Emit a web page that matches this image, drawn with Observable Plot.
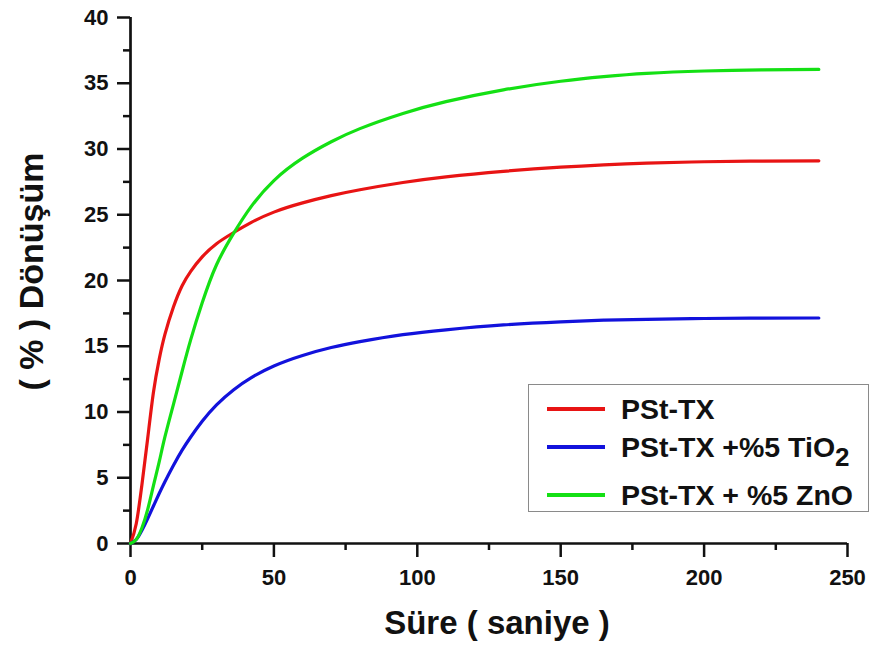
<!DOCTYPE html>
<html>
<head>
<meta charset="utf-8">
<script src="https://cdn.jsdelivr.net/npm/d3@7"></script>
<script src="https://cdn.jsdelivr.net/npm/@observablehq/plot@0.6"></script>
<style>
  html, body { margin: 0; padding: 0; background: #fff; }
  #wrap { position: relative; width: 873px; height: 655px; font-family: "Liberation Sans", Arial, sans-serif; }
  #legend { position: absolute; left: 528px; top: 384px; width: 341px; height: 128px; border: 1.5px solid #8a8a8a; box-sizing: border-box; padding-top: 5px; }
  .row { display: flex; align-items: center; height: 38px; }
  .row:nth-child(2) { margin-bottom: 10px; }
  .sw { width: 58px; height: 3.5px; margin-left: 18px; margin-right: 16px; }
  .lbl { font-weight: bold; font-size: 28.5px; color: #111; white-space: nowrap; }
  .lbl sub { font-size: 26px; vertical-align: -9px; line-height: 0; }
</style>
</head>
<body>
<div id="wrap"></div>
<script>
// time (s)
const times = [0, 2, 4, 6, 8, 10, 12, 15, 18, 21, 25, 30, 36, 42, 50, 60, 70, 80, 95, 110, 130, 150, 165, 180, 200, 220, 240];
// conversion (%) per series
const pstTX   = [0, 1.5, 4.5, 8.0, 11.5, 14.0, 15.9, 18.0, 19.6, 20.7, 21.8, 22.8, 23.65, 24.4, 25.2, 25.9, 26.45, 26.9, 27.45, 27.88, 28.3, 28.62, 28.8, 28.93, 29.03, 29.08, 29.1];
const pstTiO2 = [0, 0.3, 1.0, 1.9, 2.85, 3.8, 4.7, 5.95, 7.1, 8.1, 9.3, 10.55, 11.7, 12.6, 13.5, 14.3, 14.9, 15.35, 15.88, 16.25, 16.62, 16.86, 16.98, 17.05, 17.11, 17.14, 17.15];
const pstZnO  = [0, 0.3, 1.2, 2.6, 4.4, 6.2, 8.1, 10.6, 13.1, 15.5, 18.3, 21.2, 23.6, 25.6, 27.6, 29.3, 30.55, 31.55, 32.7, 33.6, 34.5, 35.15, 35.5, 35.75, 35.93, 36.02, 36.05];

const seriesKeys = ["PSt-TX", "PSt-TX +%5 TiO2", "PSt-TX + %5 ZnO"];
const seriesLabels = ["PSt-TX", "PSt-TX +%5 TiO<sub>2</sub>", "PSt-TX + %5 ZnO"];
const seriesColors = ["#e81414", "#1212dc", "#14e014"];
const seriesValues = [pstTX, pstTiO2, pstZnO];

const xMajor = [0, 50, 100, 150, 200, 250];
const xMinor = [25, 75, 125, 175, 225];
const yMajor = [0, 5, 10, 15, 20, 25, 30, 35, 40];
const yMinor = [2.5, 7.5, 12.5, 17.5, 22.5, 27.5, 32.5, 37.5];

const xTitle = "Süre ( saniye )";
const yTitle = "( % ) Dönüşüm";

const rows = seriesKeys.flatMap((s, i) => times.map((t, j) => ({series: s, t, v: seriesValues[i][j]})));

const font = {fontWeight: "bold"};

const chart = Plot.plot({
  width: 873,
  height: 655,
  marginLeft: 130,
  marginRight: 26,
  marginTop: 17,
  marginBottom: 112,
  style: {fontFamily: "'Liberation Sans', Arial, sans-serif", color: "#111", background: "#fff"},
  x: {domain: [0, 250]},
  y: {domain: [0, 40]},
  color: {domain: seriesKeys, range: seriesColors},
  marks: [
    Plot.axisX(xMajor, {tickSize: 14, tickPadding: 12, fontSize: 22, ...font, stroke: "#111", strokeWidth: 2.5, label: null}),
    Plot.axisX(xMinor, {tickSize: 7, fill: "none", stroke: "#111", strokeWidth: 2.5, label: null}),
    Plot.axisY(yMajor, {tickSize: 13, tickPadding: 9, fontSize: 22, ...font, stroke: "#111", strokeWidth: 2.5, label: null}),
    Plot.axisY(yMinor, {tickSize: 7, fill: "none", stroke: "#111", strokeWidth: 2.5, label: null}),
    Plot.ruleX([0], {strokeWidth: 2.7, stroke: "#111"}),
    Plot.ruleY([0], {strokeWidth: 2.7, stroke: "#111"}),
    Plot.line(rows, {x: "t", y: "v", z: "series", stroke: "series", strokeWidth: 3.2, curve: "natural"}),
    Plot.text([xTitle], {frameAnchor: "bottom", textAnchor: "middle", lineAnchor: "middle", dx: 8, dy: 80, fontSize: 33, ...font, fill: "#111"}),
    Plot.text([yTitle], {frameAnchor: "left", textAnchor: "middle", lineAnchor: "middle", rotate: -90, dx: -98, dy: -9, fontSize: 34, ...font, fill: "#111"})
  ]
});

const wrap = document.getElementById("wrap");
wrap.appendChild(chart);

const legend = document.createElement("div");
legend.id = "legend";
seriesKeys.forEach((s, i) => {
  const row = document.createElement("div");
  row.className = "row";
  const sw = document.createElement("div");
  sw.className = "sw";
  sw.style.background = seriesColors[i];
  const lbl = document.createElement("div");
  lbl.className = "lbl";
  lbl.innerHTML = seriesLabels[i];
  row.appendChild(sw);
  row.appendChild(lbl);
  legend.appendChild(row);
});
wrap.appendChild(legend);
</script>
</body>
</html>
